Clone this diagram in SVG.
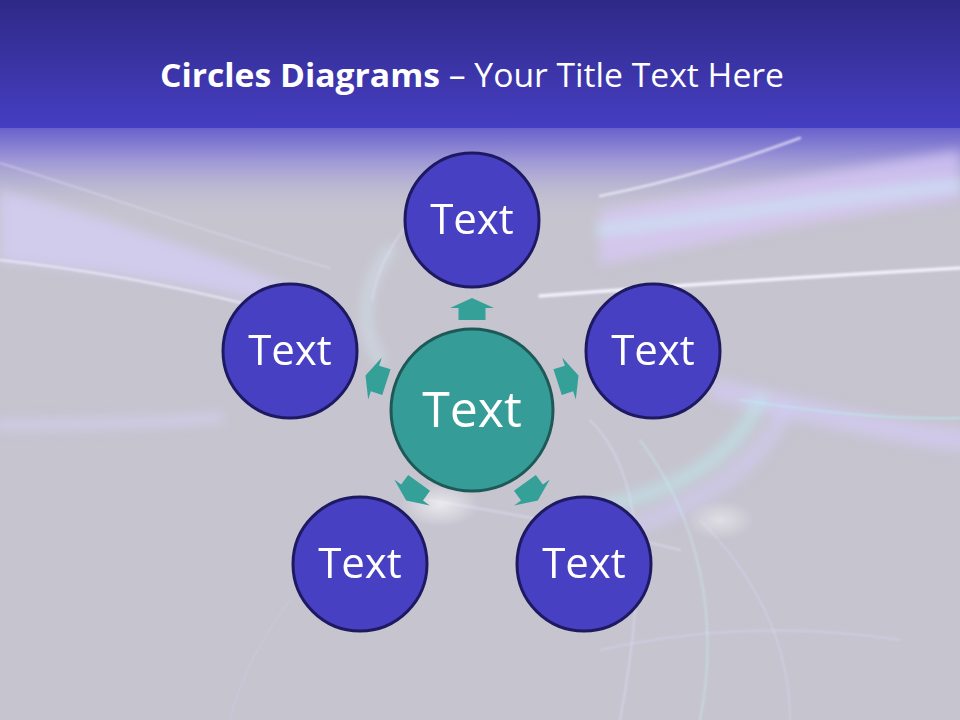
<svg xmlns="http://www.w3.org/2000/svg" width="960" height="720" viewBox="0 0 960 720">
<defs>
<linearGradient id="band" x1="0" y1="0" x2="0" y2="1">
<stop offset="0" stop-color="#2E2987"/>
<stop offset="1" stop-color="#463EC2"/>
</linearGradient>
<linearGradient id="fade" x1="0" y1="0" x2="0" y2="1">
<stop offset="0" stop-color="#6A61CC"/>
<stop offset="0.35" stop-color="#9C96D6"/>
<stop offset="1" stop-color="#C6C4D2" stop-opacity="0"/>
</linearGradient>
<radialGradient id="glow" cx="0.5" cy="0.5" r="0.5">
<stop offset="0" stop-color="#FFFFFF" stop-opacity="0.9"/>
<stop offset="1" stop-color="#FFFFFF" stop-opacity="0"/>
</radialGradient>
<filter id="soft" x="-20%" y="-20%" width="140%" height="140%"><feGaussianBlur stdDeviation="6"/></filter>
<filter id="soft2" x="-20%" y="-20%" width="140%" height="140%"><feGaussianBlur stdDeviation="1.2"/></filter>
<polygon id="arr" points="-13.5,-90 -13.5,-102 -22,-102 0,-112 22,-102 13.5,-102 13.5,-90"/>
</defs>
<style>
.sat{fill:#4840C3;stroke:#1E1A62;stroke-width:3}
.hub{fill:#359C98;stroke:#1F5957;stroke-width:3}
.lbl{font-family:"Open Sans","Noto Sans",sans-serif;fill:#FFFFFF;text-anchor:middle}
.sw{fill:none;stroke-linecap:round}
.ar{fill:#35A098}
</style>
<rect width="960" height="720" fill="#C6C4CF"/>
<rect y="128" width="960" height="90" fill="url(#fade)"/>
<g id="swooshes">
<g filter="url(#soft)">
<path d="M0,190 C100,215 200,250 300,290 L300,310 C200,285 100,270 0,262Z" fill="#D6CEF8" opacity="0.7"/>
<path d="M600,210 C720,190 840,170 960,150 L960,200 C840,215 720,240 600,265Z" fill="#D9C9F8" opacity="0.7"/>
<path class="sw" d="M600,230 C700,220 800,200 960,185" stroke="#C8EEF6" stroke-width="10" opacity="0.6"/>
<path class="sw" d="M720,390 C800,410 880,430 960,440" stroke="#D6CCFA" stroke-width="22" opacity="0.6"/>
<path class="sw" d="M580,510 C650,500 730,470 760,400" stroke="#BDEEF0" stroke-width="14" opacity="0.5"/>
<path class="sw" d="M560,545 C660,525 750,485 785,410" stroke="#D4CCFA" stroke-width="18" opacity="0.5"/>
<path class="sw" d="M0,425 C80,425 160,422 220,418" stroke="#D8D0F8" stroke-width="10" opacity="0.6"/>
<path class="sw" d="M390,250 C360,290 360,330 380,360" stroke="#D6EEF4" stroke-width="10" opacity="0.5"/>
</g>
<g filter="url(#soft2)">
<path class="sw" d="M0,163 C120,200 230,240 330,268" stroke="#E2DEF6" stroke-width="1.5" opacity="0.6"/>
<path class="sw" d="M0,260 C90,270 170,285 250,305" stroke="#F3F1FF" stroke-width="2" opacity="0.8"/>
<path class="sw" d="M600,196 C680,180 740,160 800,138" stroke="#F4F2FF" stroke-width="2.5" opacity="0.7"/>
<path class="sw" d="M540,296 C680,285 820,276 960,268" stroke="#F6F5FF" stroke-width="3.5" opacity="0.9"/>
<path class="sw" d="M740,400 C820,412 890,420 960,418" stroke="#B8F0F0" stroke-width="2" opacity="0.6"/>
<path class="sw" d="M470,168 C420,200 380,250 372,300" stroke="#E6E2FF" stroke-width="1.5" opacity="0.6"/>
<path class="sw" d="M430,500 C520,515 600,530 680,550" stroke="#E8E4FF" stroke-width="2" opacity="0.5"/>
<path class="sw" d="M590,420 C640,470 650,560 620,720" stroke="#E4E0FF" stroke-width="1.5" opacity="0.6"/>
<path class="sw" d="M640,440 C700,520 720,620 700,720" stroke="#CCEFF4" stroke-width="2" opacity="0.5"/>
<path class="sw" d="M700,520 C760,580 790,650 790,720" stroke="#E0DAFF" stroke-width="1.5" opacity="0.5"/>
<path class="sw" d="M600,650 C680,632 780,622 900,640" stroke="#DCD6FF" stroke-width="2" opacity="0.4"/>
<path class="sw" d="M290,600 C260,640 240,680 230,720" stroke="#D8D2F4" stroke-width="1.2" opacity="0.5"/>
</g>
<ellipse cx="440" cy="505" rx="40" ry="22" fill="url(#glow)" opacity="0.7"/>
<ellipse cx="720" cy="520" rx="35" ry="20" fill="url(#glow)" opacity="0.5"/>
</g>
<rect width="960" height="128" fill="url(#band)"/>
<text x="472" y="87" font-family="'Open Sans','Noto Sans',sans-serif" font-size="33" fill="#FFFFFF" text-anchor="middle" textLength="624" lengthAdjust="spacingAndGlyphs"><tspan font-weight="bold">Circles Diagrams</tspan> – Your Title Text Here</text>
<g id="connectors">
<use href="#arr" class="ar" transform="translate(472,410)"/>
<use href="#arr" class="ar" transform="translate(472,410) rotate(72)"/>
<use href="#arr" class="ar" transform="translate(472,410) rotate(144)"/>
<use href="#arr" class="ar" transform="translate(472,410) rotate(-144)"/>
<use href="#arr" class="ar" transform="translate(472,410) rotate(-72)"/>
</g>
<g id="node-center">
<circle class="hub" cx="472" cy="410" r="81"/>
<text class="lbl" x="472" y="427" font-size="50">Text</text>
</g>
<g id="node-top">
<circle class="sat" cx="472" cy="220" r="67"/>
<text class="lbl" x="472" y="234" font-size="42">Text</text>
</g>
<g id="node-right">
<circle class="sat" cx="653" cy="351" r="67"/>
<text class="lbl" x="653" y="365" font-size="42">Text</text>
</g>
<g id="node-left">
<circle class="sat" cx="290" cy="351" r="67"/>
<text class="lbl" x="290" y="365" font-size="42">Text</text>
</g>
<g id="node-bottom-left">
<circle class="sat" cx="360" cy="564" r="67"/>
<text class="lbl" x="360" y="578" font-size="42">Text</text>
</g>
<g id="node-bottom-right">
<circle class="sat" cx="584" cy="564" r="67"/>
<text class="lbl" x="584" y="578" font-size="42">Text</text>
</g>
</svg>
